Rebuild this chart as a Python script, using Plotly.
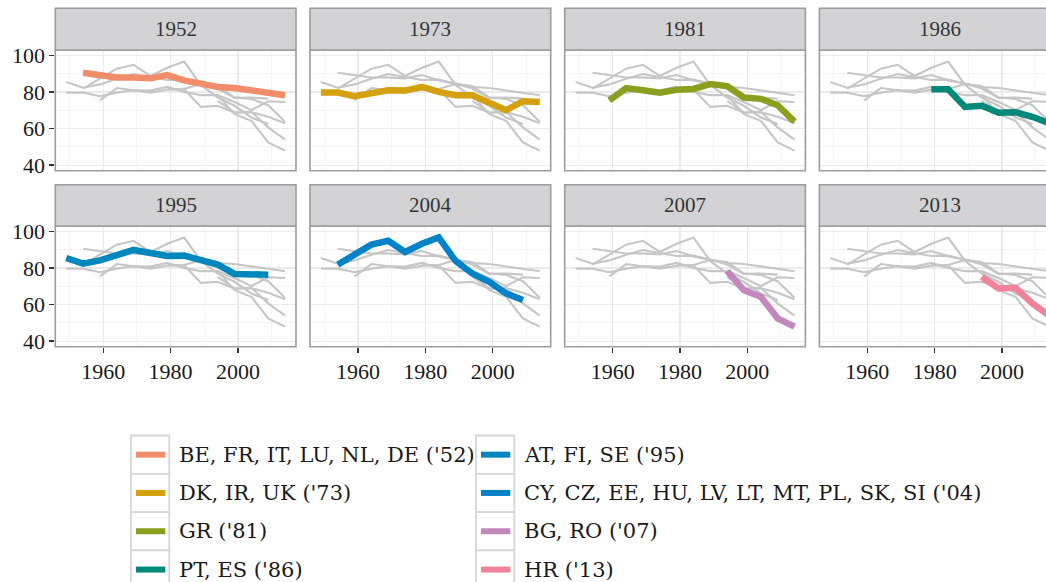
import plotly.graph_objects as go

# ---------------- data ----------------
years = [1949, 1954, 1959, 1964, 1969, 1974, 1979, 1984, 1989, 1994, 1999, 2004, 2009, 2014]

panel_titles = ["1952", "1973", "1981", "1986", "1995", "2004", "2007", "2013"]

legend_labels = [
    "BE, FR, IT, LU, NL, DE ('52)",
    "DK, IR, UK ('73)",
    "GR ('81)",
    "PT, ES ('86)",
    "AT, FI, SE ('95)",
    "CY, CZ, EE, HU, LV, LT, MT, PL, SK, SI ('04)",
    "BG, RO ('07)",
    "HR ('13)",
]

turnout_1952 = [None, 90.6, 89.5, 88.0, 88.0, 87.5, 89.3, 86.4, 84.6, 82.8, 82.2, 81.0, 79.7, 78.3]
turnout_1973 = [79.7, 79.7, 77.7, 79.7, 81.0, 80.8, 82.8, 80.1, 78.3, 78.3, 74.6, 70.1, 75.0, 74.6]
turnout_1981 = [None, None, 75.5, 82.2, 81.0, 79.7, 81.3, 81.7, 84.4, 83.3, 77.0, 76.3, 72.8, 63.8]
turnout_1986 = [None, None, None, None, None, None, 81.5, 81.5, 71.9, 72.5, 68.7, 69.0, 66.5, 63.0]
turnout_1995 = [85.5, 82.4, 84.2, 87.3, 89.9, 88.2, 86.6, 86.8, 84.6, 81.9, 76.8, 77.0, 76.4, None]
turnout_2004 = [None, 81.9, 87.3, 92.8, 94.9, 88.8, 93.3, 96.7, 83.9, 77.0, 72.5, 66.1, 62.5, None]
turnout_2007 = [None, None, None, None, None, None, None, None, None, 78.3, 67.9, 64.3, 52.5, 48.0]
turnout_2013 = [None, None, None, None, None, None, None, None, None, 75.2, 68.8, 69.2, 60.7, 54.0]

series = [turnout_1952, turnout_1973, turnout_1981, turnout_1986,
          turnout_1995, turnout_2004, turnout_2007, turnout_2013]

colors = ["#F18D6A", "#D4A00C", "#8C9E1D", "#00887B",
          "#0088BE", "#0082C8", "#C487BD", "#F08398"]

x_ticks = [1960, 1980, 2000]
x_minor = [1950, 1970, 1990, 2010]
y_ticks = [40, 60, 80, 100]
y_minor = [50, 70, 90]

# ---------------- layout geometry (screen pixels) ----------------
W, H = 1046, 582
GRAY = "#C6C6C6"
BORDER = "#9C9C9C"
TICKFONT = dict(family="Liberation Serif", size=22, color="#1A1A1A")


def fx(px):
    return px / W


def fy(py):
    return 1 - py / H


col_left = [55.3, 310.0, 564.7, 819.4]
panel_w = 240.7
row_top = [50.0, 226.0]
row_bot = [170.7, 346.7]
strip_top = [8.3, 184.7]
x_lo, x_hi = 1945.75, 2017.25
y_range = [37, 103]
units_per_px = (x_hi - x_lo) / panel_w

fig = go.Figure()
layout = dict(
    width=W, height=H,
    margin=dict(l=0, r=0, t=0, b=0),
    template="none",
    paper_bgcolor="white",
    plot_bgcolor="white",
    showlegend=False,
)
shapes = []
annotations = []

for i, title in enumerate(panel_titles):
    r, c = divmod(i, 4)
    suffix = "" if i == 0 else str(i + 1)
    xa, ya = "x" + suffix, "y" + suffix
    for vals in series:
        fig.add_trace(go.Scatter(x=years, y=vals, mode="lines",
                                 line=dict(color=GRAY, width=2.1),
                                 xaxis=xa, yaxis=ya, hoverinfo="skip",
                                 showlegend=False))
    fig.add_trace(go.Scatter(x=years, y=series[i], mode="lines",
                             line=dict(color=colors[i], width=6.5),
                             name=legend_labels[i],
                             xaxis=xa, yaxis=ya, showlegend=False))

    left = col_left[c]
    right_full = left + panel_w
    right = min(right_full, W)
    xr = [x_lo, x_lo + (right - left) * units_per_px]

    show_x = r == 1
    show_y = c == 0
    layout["xaxis" + suffix] = dict(
        domain=[fx(left), fx(right)], range=xr, anchor=ya,
        tickvals=x_ticks, ticktext=[str(v) for v in x_ticks],
        showticklabels=show_x, ticks="outside" if show_x else "",
        ticklen=5, tickwidth=1.5, tickcolor="#333333",
        tickfont=TICKFONT,
        showgrid=True, gridcolor="#EBEBEB", gridwidth=1.4,
        minor=dict(tickvals=x_minor, showgrid=True, gridcolor="#F5F5F5",
                   gridwidth=1.0, ticks=""),
        zeroline=False, showline=False, automargin=False, fixedrange=True,
    )
    layout["yaxis" + suffix] = dict(
        domain=[fy(row_bot[r]), fy(row_top[r])], range=y_range, anchor=xa,
        tickvals=y_ticks, ticktext=[str(v) for v in y_ticks],
        showticklabels=show_y, ticks="outside" if show_y else "",
        ticklen=5, tickwidth=1.5, tickcolor="#333333",
        tickfont=TICKFONT,
        showgrid=True, gridcolor="#EBEBEB", gridwidth=1.4,
        minor=dict(tickvals=y_minor, showgrid=True, gridcolor="#F5F5F5",
                   gridwidth=1.0, ticks=""),
        zeroline=False, showline=False, automargin=False, fixedrange=True,
    )

    # panel border
    shapes.append(dict(type="rect", xref="paper", yref="paper",
                       x0=fx(left), x1=fx(right_full),
                       y0=fy(row_bot[r]), y1=fy(row_top[r]),
                       line=dict(color=BORDER, width=1.6),
                       fillcolor="rgba(0,0,0,0)", layer="above"))
    # strip
    shapes.append(dict(type="rect", xref="paper", yref="paper",
                       x0=fx(left), x1=fx(right_full),
                       y0=fy(row_top[r]), y1=fy(strip_top[r]),
                       line=dict(color=BORDER, width=1.6),
                       fillcolor="#D3D3D6", layer="above"))
    annotations.append(dict(xref="paper", yref="paper",
                            x=fx((left + right_full) / 2),
                            y=fy((strip_top[r] + row_top[r]) / 2),
                            text=title, showarrow=False,
                            xanchor="center", yanchor="middle",
                            font=dict(family="Liberation Serif", size=21,
                                      color="#333333")))

# ---------------- legend (two columns, column-major) ----------------
box = 38.3
box_left = [131.0, 476.0]
box_top0 = 435.5
for k, lab in enumerate(legend_labels):
    col, row = divmod(k, 4)
    bl = box_left[col]
    bt = box_top0 + row * box
    shapes.append(dict(type="rect", xref="paper", yref="paper",
                       x0=fx(bl), x1=fx(bl + box), y0=fy(bt + box), y1=fy(bt),
                       line=dict(color="#D6D6D6", width=1.8),
                       fillcolor="white", layer="above"))
    shapes.append(dict(type="line", xref="paper", yref="paper",
                       x0=fx(bl + 5), x1=fx(bl + box - 4),
                       y0=fy(bt + box / 2), y1=fy(bt + box / 2),
                       line=dict(color=colors[k], width=6), layer="above"))
    annotations.append(dict(xref="paper", yref="paper",
                            x=fx(bl + 45.5), y=fy(bt + box / 2),
                            text=lab, showarrow=False,
                            xanchor="left", yanchor="middle",
                            font=dict(family="DejaVu Serif", size=21,
                                      color="#1A1A1A")))

layout["shapes"] = shapes
layout["annotations"] = annotations
fig.update_layout(**layout)

fig.write_html(
    "out.html",
    config={"displayModeBar": False, "staticPlot": True},
    post_script="document.body.style.margin='0';document.body.style.overflow='hidden';",
)
